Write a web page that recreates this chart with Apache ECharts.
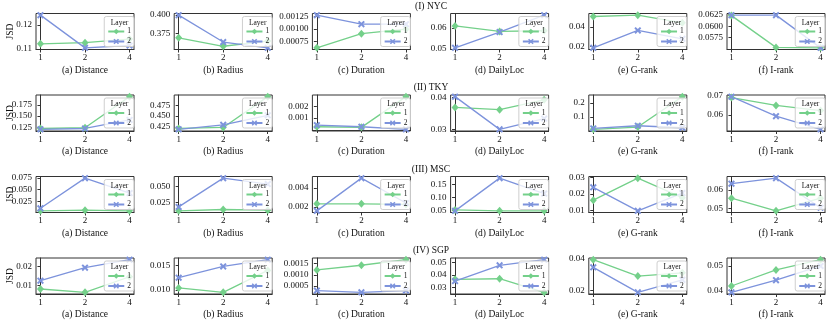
<!DOCTYPE html>
<html><head><meta charset="utf-8">
<script src="https://cdn.jsdelivr.net/npm/echarts@6/dist/echarts.min.js"></script>
<style>html,body{margin:0;padding:0;background:#fff}#c{width:831px;height:321px}</style>
</head><body><div id="c"></div>
<script>
// ---------- data ----------
const xCategories = ['1', '2', '4'];
const metricTitles = ['(a) Distance', '(b) Radius', '(c) Duration', '(d) DailyLoc', '(e) G-rank', '(f) I-rank'];
const cityTitles = ['(I) NYC', '(II) TKY', '(III) MSC', '(IV) SGP'];
const layerNames = ['1', '2'];

// each row: [Distance, Radius, Duration, DailyLoc, G-rank, I-rank], values at layer x = 1, 2, 4
const nycLayer1 = [[0.1121, 0.1126, 0.1141], [0.3688, 0.3571, 0.3643], [0.000625, 0.000908, 0.00100], [0.0609, 0.0583, 0.0586], [0.0505, 0.0519, 0.0441], [0.0623, 0.0554, 0.0553]];
const nycLayer2 = [[0.1242, 0.1104, 0.1114], [0.4000, 0.3629, 0.3549], [0.00128, 0.00110, 0.00110], [0.0505, 0.0580, 0.0660], [0.0186, 0.0363, 0.0278], [0.0624, 0.0624, 0.0553]];
const tkyLayer1 = [[0.1220, 0.1236, 0.1938], [0.4212, 0.4235, 0.4947], [0.00027, 0.00022, 0.00280], [0.0369, 0.0362, 0.0393], [0.0116, 0.0280, 0.2440], [0.0690, 0.0649, 0.0622]];
const tkyLayer2 = [[0.1200, 0.1220, 0.1413], [0.4190, 0.4295, 0.4515], [0.00040, 0.00027, 0.00005], [0.0403, 0.0300, 0.0334], [0.0186, 0.0372, 0.0230], [0.0695, 0.0593, 0.0524]];
const mscLayer1 = [[0.0039, 0.0053, 0.0039], [0.0117, 0.0138, 0.0128], [0.00232, 0.00232, 0.00225], [0.0525, 0.0490, 0.0490], [0.0161, 0.0295, 0.0176], [0.0556, 0.0487, 0.0556]];
const mscLayer2 = [[0.0095, 0.0750, 0.0426], [0.0179, 0.0628, 0.0536], [0.00157, 0.00504, 0.00240], [0.0490, 0.1740, 0.1150], [0.0239, 0.0096, 0.0204], [0.0635, 0.0665, 0.0504]];
const sgpLayer1 = [[0.0080, 0.0062, 0.0146], [0.0104, 0.0095, 0.0140], [0.00122, 0.00143, 0.00168], [0.0365, 0.0370, 0.0260], [0.0396, 0.0291, 0.0312], [0.0418, 0.0484, 0.0526]];
const sgpLayer2 = [[0.0125, 0.0195, 0.0238], [0.0125, 0.0148, 0.0162], [0.00030, 0.00022, 0.00030], [0.0351, 0.0478, 0.0524], [0.0347, 0.0187, 0.0267], [0.0392, 0.0442, 0.0500]];

const nycTicks = [['0.11', '0.12'], ['0.375', '0.400'], ['0.00075', '0.00100', '0.00125'], ['0.05', '0.06'], ['0.02', '0.04'], ['0.0575', '0.0600', '0.0625']];
const tkyTicks = [['0.125', '0.150', '0.175'], ['0.425', '0.450', '0.475'], ['0.001', '0.002'], ['0.03', '0.04'], ['0.1', '0.2'], ['0.06', '0.07']];
const mscTicks = [['0.025', '0.050', '0.075'], ['0.025', '0.050'], ['0.002', '0.004'], ['0.05', '0.10', '0.15'], ['0.01', '0.02', '0.03'], ['0.05', '0.06']];
const sgpTicks = [['0.01', '0.02'], ['0.010', '0.015'], ['0.0005', '0.0010', '0.0015'], ['0.03', '0.04', '0.05'], ['0.02', '0.04'], ['0.04', '0.05']];

const layer1Rows = [nycLayer1, tkyLayer1, mscLayer1, sgpLayer1];
const layer2Rows = [nycLayer2, tkyLayer2, mscLayer2, sgpLayer2];
const tickRows = [nycTicks, tkyTicks, mscTicks, sgpTicks];

// ---------- style / layout ----------
const FONT = '"Liberation Serif", "Times New Roman", serif';
const GREEN = '#74d08a';
const BLUE = '#7d93dc';
const XSYM = 'path://M2,0 L5,3 L8,0 L10,2 L7,5 L10,8 L8,10 L5,7 L2,10 L0,8 L3,5 L0,2 Z';
const CW = 831;
const PW = 98, PH = 36;
const colLeft = [36, 174.2, 312.4, 450.6, 588.8, 727];
const rowTop = [13.5, 95, 176.5, 258];

const grids = [], xAxes = [], yAxes = [], series = [], legends = [], graphics = [];

for (let r = 0; r < 4; r++) {
  graphics.push({
    type: 'text', x: 431, y: rowTop[r] - 7.5, z: 10,
    style: { text: cityTitles[r], font: '9.5px ' + FONT, fill: '#111', align: 'center', verticalAlign: 'middle' }
  });
  graphics.push({
    type: 'text', x: 10, y: rowTop[r] + PH / 2, rotation: Math.PI / 2, z: 10,
    style: { text: 'JSD', font: '9.5px ' + FONT, fill: '#111', align: 'center', verticalAlign: 'middle' }
  });
  for (let c = 0; c < 6; c++) {
    const idx = r * 6 + c;
    const v1 = layer1Rows[r][c], v2 = layer2Rows[r][c];
    const all = v1.concat(v2);
    const lo = Math.min(...all), hi = Math.max(...all), span = hi - lo;
    const ticks = tickRows[r][c];
    const tickVals = ticks.map(Number);
    const L = colLeft[c], T = rowTop[r];
    grids.push({ left: L, top: T, width: PW, height: PH, show: true, borderColor: '#333', borderWidth: 1, backgroundColor: 'transparent' });
    xAxes.push({
      type: 'value', gridIndex: idx, min: -0.1, max: 2.1,
      name: metricTitles[c], nameLocation: 'middle', nameGap: 15.5,
      nameTextStyle: { fontFamily: FONT, fontSize: 9.5, color: '#111' },
      axisLine: { show: true, lineStyle: { color: '#333', width: 1 } },
      axisTick: { show: true, length: 3, inside: false, customValues: [0, 1, 2], lineStyle: { color: '#333' } },
      axisLabel: { show: true, margin: 4, fontFamily: FONT, fontSize: 9, color: '#111', customValues: [0, 1, 2],
        formatter: v => xCategories[Math.round(v)] },
      splitLine: { show: false }
    });
    yAxes.push({
      type: 'value', gridIndex: idx, min: lo - 0.05 * span, max: hi + 0.05 * span,
      axisLine: { show: true, lineStyle: { color: '#333', width: 1 } },
      axisTick: { show: true, length: 3, inside: false, customValues: tickVals, lineStyle: { color: '#333' } },
      axisLabel: { show: true, margin: 4, fontFamily: FONT, fontSize: 9, color: '#111', customValues: tickVals,
        formatter: v => { const k = tickVals.findIndex(t => Math.abs(t - v) < 1e-12); return k >= 0 ? ticks[k] : ''; } },
      splitLine: { show: false }
    });
    series.push({
      name: layerNames[0], type: 'line', xAxisIndex: idx, yAxisIndex: idx,
      data: v1.map((v, i) => [i, v]), color: GREEN, symbol: 'diamond', symbolSize: [7, 8],
      lineStyle: { width: 1.3, color: GREEN }, itemStyle: { color: GREEN }, clip: false, animation: false, z: 3
    });
    series.push({
      name: layerNames[1], type: 'line', xAxisIndex: idx, yAxisIndex: idx,
      data: v2.map((v, i) => [i, v]), color: BLUE, symbol: XSYM, symbolSize: 7,
      lineStyle: { width: 1.3, color: BLUE }, itemStyle: { color: BLUE }, clip: false, animation: false, z: 3
    });
    legends.push({
      data: layerNames, orient: 'vertical', right: CW - (L + PW), top: T + 3,
      itemWidth: 16, itemHeight: 7, itemGap: 2, selectedMode: false,
      textStyle: { fontFamily: FONT, fontSize: 7.5, color: '#111', padding: [0, 0, 0, -2] },
      padding: [11, 3, 1, 3], borderColor: '#cfcfcf', borderWidth: 1, borderRadius: 2,
      backgroundColor: 'rgba(255,255,255,0.8)', z: 5
    });
    graphics.push({
      type: 'text', x: L + PW - 14.5, y: T + 9.5, z: 20,
      style: { text: 'Layer', font: '7.5px ' + FONT, fill: '#111', align: 'center', verticalAlign: 'middle' }
    });
  }
}

const chart = echarts.init(document.getElementById('c'), null, { renderer: 'canvas' });
chart.setOption({
  animation: false,
  backgroundColor: '#fff',
  grid: grids, xAxis: xAxes, yAxis: yAxes, series: series, legend: legends,
  graphic: graphics
});
</script></body></html>
